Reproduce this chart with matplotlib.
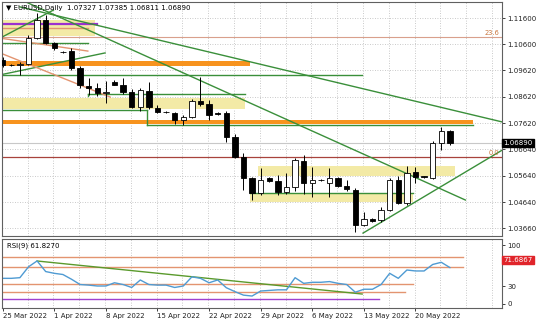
import numpy as np
import matplotlib
matplotlib.use("Agg")
import matplotlib.pyplot as plt

# EURUSD daily bars (broker feed with sunday candles), 25 Mar - 25 May 2022
opens = [1.1002, 1.0981, 1.0983, 1.0985, 1.1084, 1.1152, 1.1066, 1.1033, 1.1035, 1.0971,
         1.0903, 1.0895, 1.0877, 1.0917, 1.0907, 1.0880, 1.0824, 1.0884, 1.0820, 1.0806,
         1.0801, 1.0774, 1.0786, 1.0846, 1.0835, 1.0800, 1.0801, 1.0710, 1.0635, 1.0555,
         1.0499, 1.0555, 1.0544, 1.0502, 1.0521, 1.0619, 1.0536, 1.0548, 1.0536, 1.0555,
         1.0525, 1.0510, 1.0378, 1.0400, 1.0398, 1.0434, 1.0548, 1.0461, 1.0578, 1.0561,
         1.0557, 1.0687, 1.07327]
highs = [1.1012, 1.0985, 1.0993, 1.1095, 1.1179, 1.1172, 1.1070, 1.1036, 1.1047, 1.0979,
         1.0933, 1.0915, 1.0920, 1.0925, 1.0933, 1.0892, 1.0895, 1.0918, 1.0830, 1.0810,
         1.0805, 1.0792, 1.0853, 1.0937, 1.0850, 1.0803, 1.0810, 1.0720, 1.0650, 1.0560,
         1.0593, 1.0558, 1.0567, 1.0574, 1.0630, 1.0642, 1.0597, 1.0550, 1.0593, 1.0560,
         1.0548, 1.0518, 1.0425, 1.0403, 1.0444, 1.0556, 1.0563, 1.0600, 1.0597, 1.0563,
         1.0695, 1.0748, 1.07385]
lows = [1.0975, 1.0977, 1.0946, 1.0981, 1.1080, 1.1062, 1.1039, 1.1028, 1.0963, 1.0896,
        1.0869, 1.0865, 1.0837, 1.0905, 1.0873, 1.0818, 1.0808, 1.0815, 1.0800, 1.0800,
        1.0761, 1.0757, 1.0781, 1.0828, 1.0774, 1.0795, 1.0691, 1.0630, 1.0510, 1.0472,
        1.0492, 1.0540, 1.0490, 1.0495, 1.0505, 1.0493, 1.0483, 1.0545, 1.0483, 1.0520,
        1.0505, 1.0351, 1.0373, 1.0390, 1.0390, 1.0430, 1.0458, 1.0455, 1.0536, 1.0557,
        1.0550, 1.0661, 1.06811]
closes = [1.0981, 1.0983, 1.0986, 1.1084, 1.1152, 1.1066, 1.1047, 1.1031, 1.0971, 1.0907,
          1.0897, 1.0877, 1.0880, 1.0908, 1.0880, 1.0824, 1.0888, 1.0824, 1.0805, 1.0804,
          1.0774, 1.0786, 1.0846, 1.0835, 1.0793, 1.0797, 1.0710, 1.0635, 1.0555, 1.0499,
          1.0548, 1.0544, 1.0502, 1.0521, 1.0623, 1.0536, 1.0548, 1.0547, 1.0555, 1.0525,
          1.0514, 1.0378, 1.0400, 1.0393, 1.0434, 1.0548, 1.0461, 1.0574, 1.0559, 1.0559,
          1.0687, 1.0733, 1.06890]
rsi = [43.5, 43.5, 44.6, 63, 73, 55, 52, 50, 42, 33, 32, 30.5, 30.5, 36, 33, 28, 40.7, 33,
       32, 32, 28, 30.5, 46, 43.5, 36, 40.7, 27.6, 21, 15, 13.5, 22, 23, 24, 24, 44.6, 35,
       36.8, 36.8, 38, 35, 33, 20, 25, 25, 33, 52, 43.5, 57.6, 56, 56, 67, 70.7, 61.8]

week_labels = ["25 Mar 2022", "1 Apr 2022", "8 Apr 2022", "15 Apr 2022", "22 Apr 2022",
               "29 Apr 2022", "6 May 2022", "13 May 2022", "20 May 2022"]
week_bars = [0, 6, 12, 18, 24, 30, 36, 42, 48]
price_ticks = [1.1160, 1.1060, 1.0962, 1.0862, 1.0762, 1.0664, 1.0564, 1.0464, 1.0366]
rsi_ticks = [100, 30, 0]

# analysis drawn on the chart: (price, from bar, to bar)
green_levels = [(1.1066, -1, 9.9), (1.0945, -1, 41.8), (1.0873, 9.9, 28.2),
                (1.0812, -1, 16.8), (1.0756, 16.8, 54.7), (1.0499, 28.8, 47.7)]
orange_bands = [(1.0998, 1.0979, -1, 28.8), (1.0774, 1.0759, -1, 54.7)]
yellow_zones = [(1.1152, 1.1092, -1, 10.7), (1.0858, 1.0816, -1, 28.2),
                (1.0601, 1.0563, 29.7, 52.6), (1.0495, 1.0465, 28.8, 47.7)]
salmon_levels = [(1.1122, -1, 9.9)]
purple_level = (1.1137, -1, 11.0)
fib_236 = 1.1088
red_level = 1.0635
# trend lines: (bar0, price0, bar1, price1)
green_trends = [(2.0, 1.1202, 58.1, 1.0767), (2.6, 1.1222, 53.8, 1.0472),
                (-0.3, 1.1084, 5.9, 1.1190), (-0.3, 1.0945, 11.9, 1.1028),
                (41.9, 1.0347, 58.1, 1.0661)]
salmon_trends = [(-0.3, 1.1084, 9.9, 1.1035), (-0.3, 1.1028, 12.5, 1.0861)]
rsi_levels = [(79.7, 53.5), (62.7, 53.5), (33.9, 47.7), (20.3, 46.8)]
rsi_purple = (8.5, 43.8)
rsi_trend = (4.0, 72.9, 41.8, 16.9)

W, H = 536, 321


def box(x0, y0, x1, y1):
    return [x0 / W, 1 - y1 / H, (x1 - x0) / W, (y1 - y0) / H]


fig = plt.figure(figsize=(W / 100, H / 100), dpi=100)
ax = fig.add_axes(box(2, 2, 502, 236))
ax2 = fig.add_axes(box(2, 239, 502, 308))

xmin, xmax = -0.08, 58.06
grid_col = "#b8b8b8"
green = "#3a8f3a"
salmon = "#e39470"
orange = "#f7931e"
yellow = "#f3eaa6"

for a in (ax, ax2):
    a.set_xlim(xmin, xmax)
    for b in range(0, 59, 3):
        a.axvline(b - 0.1, color=grid_col, ls=(0, (1, 2)), lw=0.6, zorder=0)
    for s in a.spines.values():
        s.set_color("#606060")
        s.set_linewidth(0.8)

# main panel
ax.set_ylim(1.0336, 1.12205)
for p in price_ticks:
    ax.axhline(p, color=grid_col, ls=(0, (1, 2)), lw=0.6, zorder=0)

for top, bot, b0, b1 in yellow_zones:
    ax.fill_between([b0, b1], bot, top, color=yellow, lw=0, zorder=1)
for top, bot, b0, b1 in orange_bands:
    ax.fill_between([b0, b1], bot, top, color=orange, lw=0, zorder=1.2)
for p, b0, b1 in green_levels:
    ax.plot([b0, b1], [p, p], color=green, lw=1.0, zorder=1.5)
ax.plot([16.8, 16.8], [1.0812, 1.0756], color=green, lw=1.0, zorder=1.5)
ax.plot([9.9, 9.9], [1.0873, 1.0866], color=green, lw=1.0, zorder=1.5)
for p, b0, b1 in salmon_levels:
    ax.plot([b0, b1], [p, p], color=salmon, lw=1.0, zorder=1.5)
ax.plot(purple_level[1:], [purple_level[0]] * 2, color="#9b30d0", lw=1.6, zorder=1.5)
ax.axhline(fib_236, color="#d9a08c", lw=0.8, zorder=1.4)
ax.axhline(red_level, color="#a8433c", lw=0.9, zorder=1.4)
ax.axhline(closes[-1], color="#c8c8c8", lw=0.8, zorder=1.3)
for b0, p0, b1, p1 in green_trends:
    ax.plot([b0, b1], [p0, p1], color=green, lw=1.0, zorder=1.6)
for b0, p0, b1, p1 in salmon_trends:
    ax.plot([b0, b1], [p0, p1], color=salmon, lw=1.0, zorder=1.6)

idx = np.arange(len(opens))
o, hi, lo, c = map(np.array, (opens, highs, lows, closes))
up = c >= o
ax.vlines(idx, lo, hi, color="black", lw=0.7, zorder=2.5)
body_lo = np.minimum(o, c)
body_h = np.maximum(np.abs(c - o), 0.00008)
ax.bar(idx, body_h, bottom=body_lo, width=0.62,
       color=np.where(up, "white", "black"), edgecolor="black", lw=0.6, zorder=3)

ax.yaxis.tick_right()
ax.set_yticks(price_ticks)
ax.set_yticklabels([f"{p:.5f}" for p in price_ticks], fontsize=5)
ax.tick_params(axis="y", length=2, pad=2, width=0.6, colors="#202020")
ax.set_xticks([])
ax.text(0.008, 0.988, "\u25bc EURUSD,Daily  1.07327 1.07385 1.06811 1.06890",
        transform=ax.transAxes, fontsize=5, va="top", ha="left", zorder=5)
ax.text(xmax - 0.3, fib_236 + 0.0003, "23.6", color="#c8743c", fontsize=4.8,
        ha="right", va="bottom")
ax.text(xmax - 0.3, red_level + 0.0003, "0.0", color="#c8743c", fontsize=4.8,
        ha="right", va="bottom")
ax.text(1.003, closes[-1], f"{closes[-1]:.5f}", transform=ax.get_yaxis_transform(),
        fontsize=5, color="white", va="center", ha="left",
        bbox=dict(boxstyle="square,pad=0.15", fc="black", ec="black"))

# RSI panel
ax2.set_ylim(-6.8, 110.2)
for v, b1 in rsi_levels:
    ax2.plot([xmin, b1], [v, v], color=salmon, lw=1.0, zorder=1)
ax2.plot([xmin, rsi_purple[1]], [rsi_purple[0]] * 2, color="#a040d0", lw=1.0, zorder=1)
ax2.plot([rsi_trend[0], rsi_trend[2]], [rsi_trend[1], rsi_trend[3]],
         color="#5a9a2c", lw=1.0, zorder=1.5)
ax2.plot(idx, rsi, color="#4f9bd3", lw=1.0, zorder=2)
ax2.yaxis.tick_right()
ax2.set_yticks(rsi_ticks)
ax2.set_yticklabels([str(t) for t in rsi_ticks], fontsize=5)
ax2.tick_params(axis="y", length=2, pad=2, width=0.6, colors="#202020")
ax2.set_xticks(week_bars)
ax2.set_xticklabels(week_labels, fontsize=5, ha="left")
ax2.tick_params(axis="x", length=2, pad=1.5, width=0.6, colors="#202020")
ax2.text(0.5, 104, "RSI(9) 61.8270", fontsize=5, va="top", ha="left")
ax2.text(1.003, 74.6, "71.6867", transform=ax2.get_yaxis_transform(), fontsize=5,
         color="white", va="center", ha="left",
         bbox=dict(boxstyle="square,pad=0.15", fc="#e0242a", ec="#e0242a"))

fig.savefig("out.png", dpi=100)
